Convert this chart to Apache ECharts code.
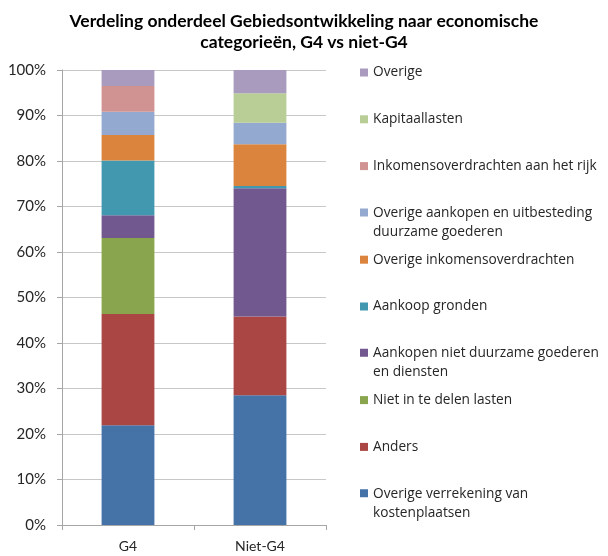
<!DOCTYPE html>
<html>
<head>
<meta charset="utf-8">
<script src="https://cdn.jsdelivr.net/npm/echarts@6/dist/echarts.min.js"></script>
<style>
  html, body { margin: 0; padding: 0; background: #fff; }
  #chart { width: 608px; height: 556px; }
</style>
</head>
<body>
<div id="chart"></div>
<script>
var categories = ['G4', 'Niet-G4'];
var yTicks = [0, 10, 20, 30, 40, 50, 60, 70, 80, 90, 100];

// stacked from bottom to top, percentages
var overigeVerrekening = [21.9, 28.5];
var anders = [24.5, 17.3];
var nietInTeDelen = [16.7, 0];
var aankopenNietDuurzaam = [5.0, 28.2];
var aankoopGronden = [12.0, 0.5];
var overigeInkomensoverdrachten = [5.6, 9.2];
var overigeAankopen = [5.1, 4.7];
var inkomensRijk = [5.7, 0];
var kapitaallasten = [0, 6.5];
var overige = [3.5, 5.1];

var seriesNames = [
	'Overige verrekening van\nkostenplaatsen',
	'Anders',
	'Niet in te delen lasten',
	'Aankopen niet duurzame goederen\nen diensten',
	'Aankoop gronden',
	'Overige inkomensoverdrachten',
	'Overige aankopen en uitbesteding\nduurzame goederen',
	'Inkomensoverdrachten aan het rijk',
	'Kapitaallasten',
	'Overige'
];
var seriesData = [overigeVerrekening, anders, nietInTeDelen, aankopenNietDuurzaam,
	aankoopGronden, overigeInkomensoverdrachten, overigeAankopen, inkomensRijk,
	kapitaallasten, overige];
var colors = ['#4572a7', '#aa4643', '#89a54e', '#71588f', '#4198af',
	'#db843d', '#93a9cf', '#d19392', '#b9cd96', '#a99bbd'];

var font = 'Lato';
var chart = echarts.init(document.getElementById('chart'));

var series = seriesNames.map(function(name, i) {
	return {
		name : name,
		type : 'bar',
		stack : 'total',
		barWidth : '40%',
		data : seriesData[i],
		itemStyle : { color : colors[i] }
	};
});

// one legend per entry, top entry = last series
var twoLineIcon = 'path://M0,0h0.01v0.01h-0.01zM0,5h8v8h-8zM0,37.99h0.01v0.01h-0.01z';
var legends = [];
for (var k = 0; k < seriesNames.length; k++) {
	var idx = seriesNames.length - 1 - k;
	var name = seriesNames[idx];
	var multi = name.indexOf('\n') >= 0;
	legends.push({
		left : 360,
		top : 72 + k * 46.8 - 9,
		padding : 0,
		itemWidth : 8,
		itemHeight : multi ? 38 : 8,
		icon : multi ? twoLineIcon : 'rect',
		data : [ name ],
		selectedMode : false,
		textStyle : {
			fontFamily : 'Open Sans',
			fontSize : 13.7,
			lineHeight : 19,
			color : '#262626'
		}
	});
}

var option = {
	animation : false,
	title : {
		text : 'Verdeling onderdeel Gebiedsontwikkeling naar economische\ncategorieën, G4 vs niet-G4',
		left : 'center',
		top : 11,
		padding : 0,
		textStyle : {
			fontFamily : font,
			fontSize : 17.5,
			fontWeight : 'bold',
			lineHeight : 21,
			color : '#000'
		}
	},
	legend : legends,
	grid : {
		left : 62,
		right : 282,
		top : 70,
		bottom : 31
	},
	xAxis : {
		type : 'category',
		data : categories,
		axisLine : { lineStyle : { color : '#a6a6a6' } },
		axisTick : { show : true, length : 5, lineStyle : { color : '#a6a6a6' } },
		axisLabel : { margin : 14, fontFamily : font, fontSize : 14, color : '#262626' }
	},
	yAxis : {
		type : 'value',
		min : yTicks[0],
		max : yTicks[yTicks.length - 1],
		interval : 10,
		axisLine : { show : true, lineStyle : { color : '#a6a6a6' } },
		axisTick : { show : true, length : 5, lineStyle : { color : '#a6a6a6' } },
		splitLine : { lineStyle : { color : '#c8c8c8' } },
		axisLabel : {
			margin : 16,
			fontFamily : font,
			fontSize : 15,
			color : '#262626',
			formatter : '{value}%'
		}
	},
	series : series
};
chart.setOption(option);
</script>
</body>
</html>
